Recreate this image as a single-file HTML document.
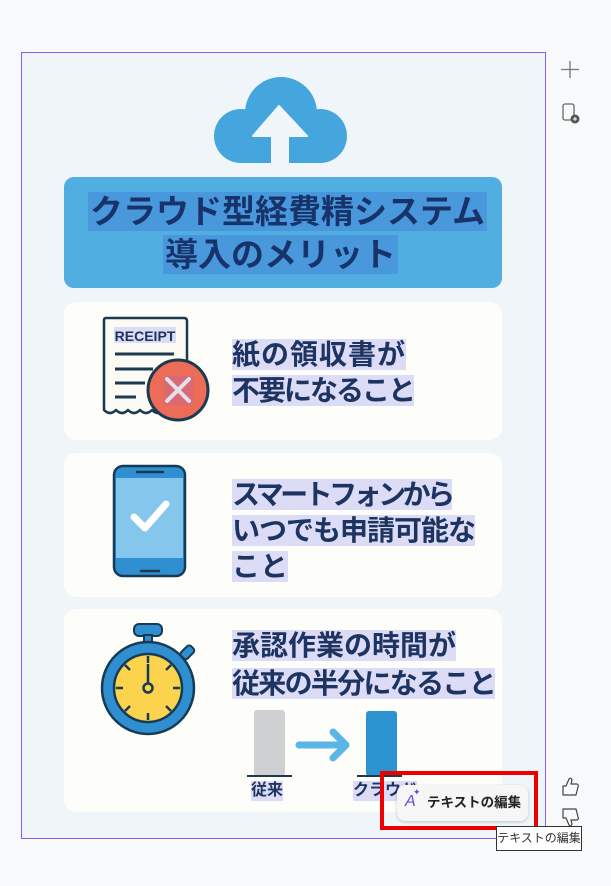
<!DOCTYPE html>
<html><head><meta charset="utf-8"><style>
*{margin:0;padding:0;box-sizing:border-box}
body{width:611px;height:886px;background:#f8f9fa;position:relative;overflow:hidden;font-family:"Liberation Sans","Noto Sans CJK JP",sans-serif}
.a{position:absolute}
.frame{left:21px;top:52px;width:525px;height:787px;border:1.5px solid #8b5cf6;background:#eff5f8}
.card{background:#fdfdfa;border-radius:12px;left:64px;width:438px}
.t{position:absolute;font-weight:bold;color:#1d3461;font-size:28px;line-height:35px;white-space:nowrap}
.t span{background:#dcdcf7}
</style></head><body>
<div class="a frame"></div>
<svg class="a" style="left:0;top:0" width="611" height="886">
<g fill="#45a6dd">
<circle cx="281" cy="113" r="36"/><circle cx="241" cy="136" r="27"/><circle cx="320" cy="136" r="27"/>
<rect x="241" y="120" width="80" height="43"/>
</g>
<path d="M279 106 L307 136 L288 136 L288 165 L272 165 L272 136 L253 136 Z" fill="#eff5f8" stroke="#eff5f8" stroke-width="2" stroke-linejoin="round"/>
<path d="M570 61v17M561 69.5h18" stroke="#777" stroke-width="1.3"/>
<rect x="563" y="104" width="11" height="16" rx="2" fill="none" stroke="#666" stroke-width="1.3"/>
<circle cx="575" cy="119" r="4.5" fill="#555"/><path d="M573 119h4M575 117v4" stroke="#fff" stroke-width="1"/>
<!-- thumbs -->
<path d="M563 786 L566 786 L569 779 Q571 777 572 780 L571 784 L577 784 Q579 785 578 787 L576 795 L566 795 L563 795 Z" fill="none" stroke="#444" stroke-width="1.2" stroke-linejoin="round"/>
<path d="M563 818 L566 818 L569 825 Q571 827 572 824 L571 820 L577 820 Q579 819 578 817 L576 809 L566 809 L563 809 Z" fill="none" stroke="#444" stroke-width="1.2" stroke-linejoin="round"/>
</svg>
<div class="a" style="left:64px;top:177px;width:438px;height:111px;background:#50aee0;border-radius:10px"></div>
<div class="a" style="left:88px;top:192px;font-size:33px;font-weight:bold;color:#17336a;line-height:39px;background:#4a98dc;padding:0 2px">クラウド型経費精システム</div>
<div class="a" style="left:163px;top:235px;font-size:33px;font-weight:bold;color:#17336a;line-height:39px;background:#4a98dc;padding:0 2px">導入のメリット</div>

<div class="a card" style="top:302px;height:138px"></div>
<div class="a card" style="top:453px;height:144px"></div>
<div class="a card" style="top:609px;height:203px"></div>

<svg class="a" style="left:0;top:0" width="611" height="886">
<path d="M104 320 Q104 318 106 318 L184 318 Q187 318 187 321 L187 410 Q181 416 176 410 Q170 416 164 410 Q158 416 152 410 Q146 416 140 410 Q134 416 128 410 Q122 416 116 410 Q110 416 104 410 Z" fill="#fbfaf5" stroke="#1c3a4f" stroke-width="2.5" stroke-linejoin="round"/>
<rect x="114" y="327" width="62" height="16" fill="#dcdcf5"/>
<text x="145" y="341" font-family="Liberation Sans,sans-serif" font-size="14" font-weight="bold" fill="#1d3461" text-anchor="middle">RECEIPT</text>
<path d="M115 354h59M115 369h38M115 383h30M115 397h21" stroke="#1c3a4f" stroke-width="3"/>
<circle cx="178" cy="390" r="30" fill="#ec6c58" stroke="#1c3a4f" stroke-width="3"/>
<rect x="164" y="376" width="29" height="29" fill="#d96a74"/>
<path d="M167 379l22 22M189 379l-22 22" stroke="#e4e0f0" stroke-width="4" stroke-linecap="round"/>
<rect x="114" y="466" width="71" height="110" rx="9" fill="#2f8fd0" stroke="#173a55" stroke-width="2.5"/>
<rect x="116" y="478" width="67" height="80" fill="#84c6ec"/>
<path d="M137 472h26M141 571h18" stroke="#173a55" stroke-width="2.5" stroke-linecap="round"/>
<path d="M134 517l11 11l21-24" stroke="#fff" stroke-width="7" fill="none" stroke-linecap="round" stroke-linejoin="round"/>
<rect x="134" y="624" width="28" height="12" rx="5" fill="#2f8fd0" stroke="#173a55" stroke-width="2"/>
<rect x="144" y="635" width="8" height="8" fill="#2f8fd0" stroke="#173a55" stroke-width="2"/>
<rect x="183" y="645" width="9" height="14" rx="3" fill="#2f8fd0" stroke="#173a55" stroke-width="2" transform="rotate(45 187 652)"/>
<circle cx="148" cy="688" r="46" fill="#2f8fd0" stroke="#173a55" stroke-width="2.5"/>
<circle cx="148" cy="688" r="34" fill="#fcd34d" stroke="#173a55" stroke-width="2.5"/>
<g stroke="#173a55" stroke-width="2.5">
<path d="M148 656v7M148 713v7M116 688h7M173 688h7M125 665l5 5M171 665l-5 5M125 711l5-5M171 711l-5-5"/>
<path d="M148 664v24"/></g>
<circle cx="148" cy="688" r="4.5" fill="#fcd34d" stroke="#173a55" stroke-width="2.5"/>
<rect x="254" y="710" width="31" height="66" rx="3" fill="#cfd0d1"/>
<rect x="366" y="711" width="31" height="65" rx="3" fill="#2c93d1"/>
<path d="M247 776h45M357 776h45" stroke="#1c3a4f" stroke-width="2"/>
<path d="M299 745h47M333 732l13 13l-13 13" stroke="#5ab6e6" stroke-width="7" fill="none" stroke-linecap="round" stroke-linejoin="round"/>
</svg>

<div class="t" style="left:232px;top:337px;letter-spacing:1px"><span>紙の領収書が</span></div>
<div class="t" style="left:232px;top:373px;letter-spacing:-2px"><span>不要になること</span></div>
<div class="t" style="left:232px;top:477px;letter-spacing:-3.5px"><span>スマートフォンから</span></div>
<div class="t" style="left:232px;top:513px;letter-spacing:-1px"><span>いつでも申請可能な</span></div>
<div class="t" style="left:232px;top:549px"><span>こと</span></div>
<div class="t" style="left:232px;top:628px"><span>承認作業の時間が</span></div>
<div class="t" style="left:232px;top:666px;letter-spacing:-1.7px"><span>従来の半分になること</span></div>
<div class="a" style="left:251px;top:781px;font-size:16px;font-weight:bold;color:#1d3461;background:#dcdcf7;line-height:20px">従来</div>
<div class="a" style="left:353px;top:781px;font-size:16px;font-weight:bold;color:#1d3461;background:#dcdcf7;line-height:20px">クラウド</div>

<div class="a" style="left:380px;top:771px;width:158px;height:59px;border:4px solid #ee0000"></div>
<div class="a" style="left:397px;top:785px;width:131px;height:36px;background:#f6f6f7;border-radius:8px;box-shadow:0 1px 3px rgba(0,0,0,.2);font-size:13.5px;font-weight:bold;color:#222;line-height:36px;padding-left:30px">テキストの編集</div>
<div class="a" style="left:405px;top:793px;font-size:16px;color:#5b4fe0;font-style:italic">A</div>
<div class="a" style="left:413px;top:787px;font-size:9px;color:#5b4fe0">✦</div>
<div class="a" style="left:496px;top:826px;width:86px;height:25px;border:1px solid #333;background:#fff;font-size:12px;color:#333;line-height:23px;text-align:center">テキストの編集</div>
</body></html>
